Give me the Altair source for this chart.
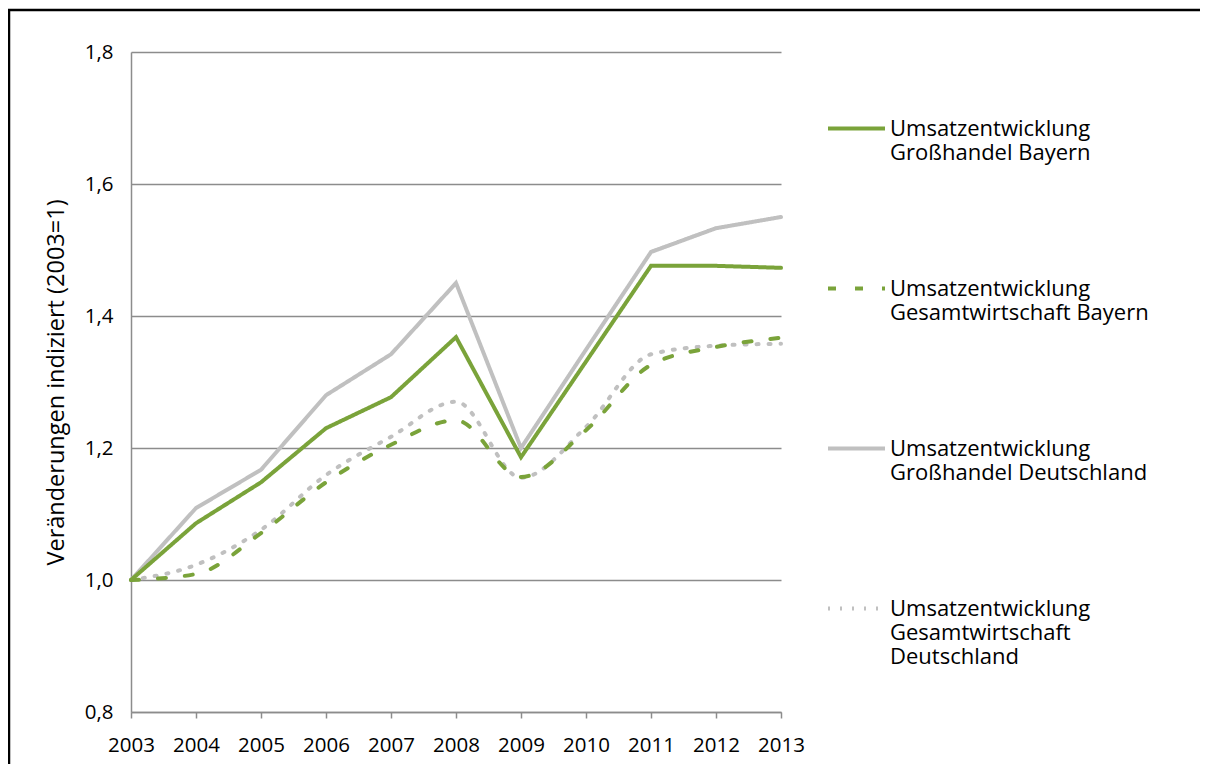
import altair as alt
import pandas as pd

years = [2003, 2004, 2005, 2006, 2007, 2008, 2009, 2010, 2011, 2012, 2013]
gh_bayern = [1.000, 1.086, 1.148, 1.230, 1.277, 1.368, 1.186, 1.331, 1.476, 1.476, 1.473]
gw_bayern = [1.000, 1.009, 1.071, 1.148, 1.205, 1.242, 1.156, 1.227, 1.326, 1.353, 1.367]
gh_de = [1.000, 1.109, 1.167, 1.280, 1.342, 1.450, 1.200, 1.349, 1.497, 1.533, 1.550]
gw_de = [1.000, 1.023, 1.076, 1.159, 1.217, 1.270, 1.155, 1.232, 1.342, 1.355, 1.358]

series_names = [
    "Umsatzentwicklung|Großhandel Bayern",
    "Umsatzentwicklung|Gesamtwirtschaft Bayern",
    "Umsatzentwicklung|Großhandel Deutschland",
    "Umsatzentwicklung|Gesamtwirtschaft|Deutschland",
]
series_values = [gh_bayern, gw_bayern, gh_de, gw_de]
series_colors = ["#7AA33A", "#7AA33A", "#C0C0C0", "#C0C0C0"]
series_dash = [[1, 0], [8, 19], [1, 0], [2, 10]]
y_title = "Veränderungen indiziert (2003=1)"

rows = []
for name, vals in zip(series_names, series_values):
    for yr, v in zip(years, vals):
        rows.append({"Jahr": yr, "Wert": v, "Serie": name})
df = pd.DataFrame(rows)

FONT = "Open Sans"

color_scale = alt.Scale(domain=series_names, range=series_colors)
dash_scale = alt.Scale(domain=series_names, range=series_dash)

x_enc = alt.X(
    "Jahr:Q",
    scale=alt.Scale(domain=[2003, 2013], nice=False, zero=False),
    axis=alt.Axis(
        values=years, format="d", title=None, grid=False,
        labelFontSize=20.5, labelFont=FONT, labelColor="#000000",
        tickSize=6, tickColor="#8C8C8C", tickWidth=1.5,
        domainColor="#8C8C8C", domainWidth=1.5, labelPadding=17,
        labelFlush=False,
    ),
)
y_enc = alt.Y(
    "Wert:Q",
    scale=alt.Scale(domain=[0.8, 1.8], nice=False, zero=False),
    axis=alt.Axis(
        values=[0.8, 1.0, 1.2, 1.4, 1.6, 1.8],
        labelExpr="replace(format(datum.value, '.1f'), '.', ',')",
        title=y_title, titleFont=FONT, titleFontSize=23.5, titleFontWeight="normal",
        titleColor="#000000", titlePadding=16,
        labelFontSize=20.5, labelFont=FONT, labelColor="#000000",
        ticks=False, labelPadding=18,
        grid=True, gridColor="#8C8C8C", gridWidth=1.5,
        domainColor="#8C8C8C", domainWidth=1.5,
    ),
)

legend = alt.Legend(
    title=None, orient="none", legendX=695, legendY=46,
    labelExpr="split(datum.label, '|')",
    labelFont=FONT, labelFontSize=22, labelColor="#000000",
    labelLimit=400, symbolType="stroke", symbolSize=3249,
    symbolStrokeWidth=4, labelOffset=3, rowPadding=94,
    labelBaseline="middle",
)

color_enc = alt.Color("Serie:N", scale=color_scale, legend=legend, sort=series_names)
dash_enc = alt.StrokeDash("Serie:N", scale=dash_scale, legend=legend, sort=series_names)

base = alt.Chart(df).encode(x=x_enc, y=y_enc, color=color_enc, strokeDash=dash_enc,
                            order=alt.Order("Jahr:Q"))

order_draw = [series_names[2], series_names[3], series_names[1], series_names[0]]
layers = []
for s in order_draw:
    interp = "linear" if s in (series_names[0], series_names[2]) else "monotone"
    layers.append(
        base.transform_filter(alt.datum.Serie == s).mark_line(
            strokeWidth=4, strokeCap="round", interpolate=interp, clip=False
        )
    )

frame = alt.Chart(pd.DataFrame({"a": [0]})).mark_rect(
    fill=None, stroke="#000000", strokeWidth=2.5, clip=False
).encode(x=alt.value(-122), x2=alt.value(1300), y=alt.value(-42), y2=alt.value(900))

chart = alt.layer(frame, *layers).properties(
    width=650, height=660,
    autosize=alt.AutoSizeParams(type="none"),
    padding={"left": 123, "top": 44, "right": 419, "bottom": 52},
).configure_view(stroke=None)

chart.save("out.html", embed_options={"renderer": "svg", "actions": False})
